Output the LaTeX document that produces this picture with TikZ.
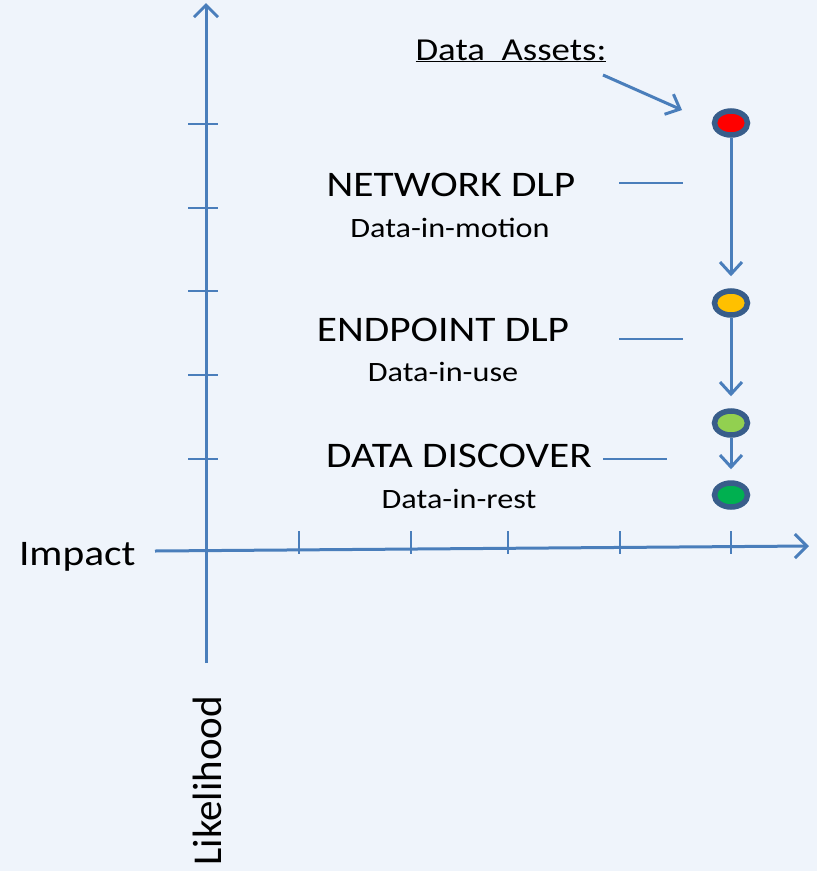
\documentclass[tikz,border=0pt]{standalone}
\usepackage{fontspec}
\setmainfont{Carlito}
\usetikzlibrary{arrows.meta}
\usetikzlibrary{shapes.geometric}

\definecolor{bgblue}{HTML}{EFF4FB}
\definecolor{axisblue}{HTML}{4A7EBB}
\definecolor{dotborder}{HTML}{385D8A}
\definecolor{dotorange}{HTML}{FFC000}
\definecolor{dotlime}{HTML}{92D050}
\definecolor{dotgreen}{HTML}{00B050}

\tikzset{
  axis line/.style = {draw = axisblue, line width = 3, -{Straight Barb[length = 12, width = 24, line width = 3]}},
  tick line/.style = {draw = axisblue, line width = 2},
  flow/.style = {draw = axisblue, line width = 3, -{Straight Barb[length = 12, width = 22, line width = 3]}},
  dot/.style = {ellipse, draw = dotborder, line width = 5.5, minimum width = 33, minimum height = 24, inner sep = 0},
  level/.style = {font = \fontsize{36}{40}\selectfont, anchor = base, xscale = 1.15, transform shape},
  state/.style = {font = \fontsize{28}{32}\selectfont, anchor = base, xscale = 1.15, transform shape}
}

\begin{document}
\begin{tikzpicture}[x = 1pt, y = -1pt]

        % background
        \fill[bgblue] (0,0) rectangle (817,871);
        \useasboundingbox (0,0) rectangle (817,871);

        % define axis end points
        \coordinate (y_bottom) at (206,663);
        \coordinate (y_top) at (206,3);
        \coordinate (x_left) at (155,551);
        \coordinate (x_right) at (809,546);

        % draw the axes
        \draw[axis line] (y_bottom) -- (y_top);
        \draw[axis line] (x_left) -- (x_right);

        % draw the ticks
        \foreach \y in {124,208,291,375,459}
          \draw[tick line] (188,\y) -- (218,\y);
        \foreach \x in {299,411,508,620,731}
          \draw[tick line] (\x,531) -- (\x,554);

        % axis labels
        \node[font = \fontsize{36}{40}\selectfont, anchor = base west, xscale = 1.15, transform shape] (impact) at (15,565) {Impact};
        \node[font = \fontsize{41}{44}\selectfont, anchor = base west, rotate = 90] (likelihood) at (221,869) {Likelihood};

        % draw the dots
        \node[dot, fill = red] (red_dot) at (731,123) {};
        \node[dot, fill = dotorange] (orange_dot) at (731,303) {};
        \node[dot, fill = dotlime] (lime_dot) at (731,423) {};
        \node[dot, fill = dotgreen] (green_dot) at (731,495) {};

        % draw the arrows between the dots
        \draw[flow, shorten > = 12] (red_dot) -- (orange_dot);
        \draw[flow, shorten > = 12] (orange_dot) -- (lime_dot);
        \draw[flow, shorten > = 11] (lime_dot) -- (green_dot);

        % data assets label
        \node[font = \fontsize{32}{36}\selectfont, anchor = base, xscale = 1.15, transform shape] (assets) at (511,60) {\underline{Data~~Assets:}};
        \coordinate (assets_from) at (603,75);
        \coordinate (assets_to) at (682,110);
        \draw[flow] (assets_from) -- (assets_to);

        % the levels
        \node[level] (network) at (451,196) {NETWORK DLP};
        \node[state] (motion) at (450,237) {Data-in-motion};
        \node[level] (endpoint) at (443,341) {ENDPOINT DLP};
        \node[state] (use) at (443,381) {Data-in-use};
        \node[level] (discover) at (459,467) {DATA DISCOVER};
        \node[state] (rest) at (459,508) {Data-in-rest};

        % short lines beside the levels
        \coordinate (network_l) at (619,183);
        \coordinate (network_r) at (683,183);
        \coordinate (endpoint_l) at (619,339);
        \coordinate (endpoint_r) at (683,339);
        \coordinate (discover_l) at (603,459);
        \coordinate (discover_r) at (667,459);
        \draw[tick line] (network_l) -- (network_r);
        \draw[tick line] (endpoint_l) -- (endpoint_r);
        \draw[tick line] (discover_l) -- (discover_r);

\end{tikzpicture}
\end{document}
